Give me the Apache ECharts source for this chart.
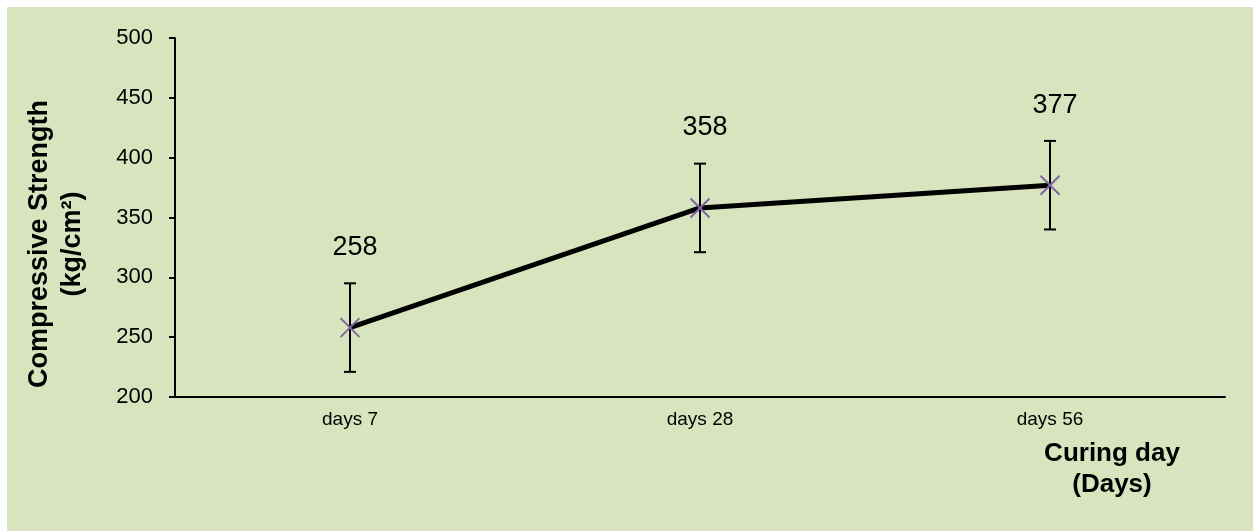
<!DOCTYPE html>
<html>
<head>
<meta charset="utf-8">
<script src="https://cdn.jsdelivr.net/npm/echarts@6/dist/echarts.min.js"></script>
<style>
  html, body { margin: 0; padding: 0; background: #ffffff; }
  #chart { width: 1253px; height: 531px; }
</style>
</head>
<body>
<div id="chart"></div>
<script>
// ---- data ----
const categories = ['days 7', 'days 28', 'days 56'];
const strength = [258, 358, 377];
const errorPlusMinus = [37, 37, 37];
const yMin = 200, yMax = 500, yStep = 50;
const xTitle = 'Curing day\n(Days)';
const yTitle = 'Compressive Strength\n(kg/cm²)';

const FONT = '"Liberation Sans", Arial, sans-serif';
const chart = echarts.init(document.getElementById('chart'), null, { renderer: 'canvas' });

const customData = strength.map((v, i) => [i, v, errorPlusMinus[i]]);

chart.setOption({
  backgroundColor: '#ffffff',
  animation: false,
  graphic: [
    { type: 'rect', left: 7, top: 7, z: -10, silent: true,
      shape: { width: 1246, height: 524 }, style: { fill: '#d7e4bd' } },
    { type: 'text', x: 1112, y: 469, z: 10,
      style: { text: xTitle, fill: '#000', fontFamily: FONT, fontSize: 26, fontWeight: 'bold',
               align: 'center', verticalAlign: 'middle', lineHeight: 31 } },
    { type: 'text', x: 56, y: 244, rotation: Math.PI / 2, z: 10,
      style: { text: yTitle, fill: '#000', fontFamily: FONT, fontSize: 27, fontWeight: 'bold',
               align: 'center', verticalAlign: 'middle', lineHeight: 33 } }
  ],
  grid: { left: 175, right: 28, top: 38, bottom: 134, containLabel: false },
  xAxis: {
    type: 'category',
    data: categories,
    boundaryGap: true,
    axisLine: { show: true, lineStyle: { color: '#000', width: 2 } },
    axisTick: { show: false },
    axisLabel: { color: '#000', fontFamily: FONT, fontSize: 19, margin: 13 },
    splitLine: { show: false }
  },
  yAxis: {
    type: 'value',
    min: yMin, max: yMax, interval: yStep,
    axisLine: { show: true, onZero: false, lineStyle: { color: '#000', width: 2 } },
    axisTick: { show: true, inside: false, length: 6, lineStyle: { color: '#000', width: 2 } },
    axisLabel: { color: '#000', fontFamily: FONT, fontSize: 22, margin: 22 },
    splitLine: { show: false }
  },
  series: [
    {
      type: 'line',
      data: strength,
      symbol: 'none',
      lineStyle: { color: '#000', width: 5 },
      z: 2
    },
    {
      type: 'custom',
      data: customData,
      z: 3,
      renderItem: function (params, api) {
        const i = api.value(0), v = api.value(1), e = api.value(2);
        const p = api.coord([i, v]);
        const hi = api.coord([i, v + e]);
        const lo = api.coord([i, v - e]);
        const cap = 6, xs = 9.5;
        const bar = { stroke: '#000', lineWidth: 2 };
        const mk = { stroke: '#8064a2', lineWidth: 2 };
        return {
          type: 'group',
          children: [
            { type: 'line', shape: { x1: p[0], y1: hi[1], x2: p[0], y2: lo[1] }, style: bar },
            { type: 'line', shape: { x1: p[0] - cap, y1: hi[1], x2: p[0] + cap, y2: hi[1] }, style: bar },
            { type: 'line', shape: { x1: p[0] - cap, y1: lo[1], x2: p[0] + cap, y2: lo[1] }, style: bar },
            { type: 'line', shape: { x1: p[0] - xs, y1: p[1] - xs, x2: p[0] + xs, y2: p[1] + xs }, style: mk },
            { type: 'line', shape: { x1: p[0] - xs, y1: p[1] + xs, x2: p[0] + xs, y2: p[1] - xs }, style: mk },
            { type: 'text', x: p[0] + 5, y: p[1] - 80,
              style: { text: String(v), fill: '#000', fontFamily: FONT, fontSize: 27,
                       align: 'center', verticalAlign: 'middle' } }
          ]
        };
      }
    }
  ]
});
</script>
</body>
</html>
